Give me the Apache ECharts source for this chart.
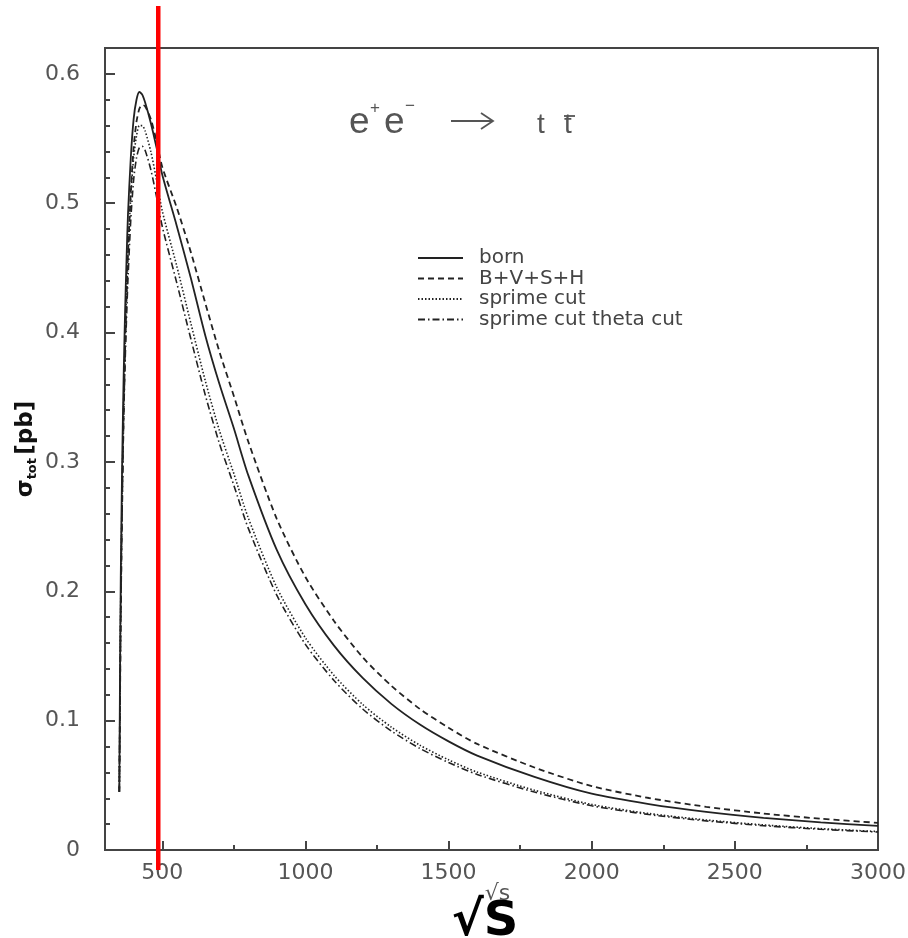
<!DOCTYPE html>
<html>
<head>
<meta charset="utf-8">
<script src="https://cdn.jsdelivr.net/npm/echarts@6/dist/echarts.min.js"></script>
<style>
  html, body { margin: 0; padding: 0; background: #fff; }
  #chart { width: 908px; height: 938px; }
</style>
</head>
<body>
<div id="chart"></div>
<script>
// Centre-of-mass energy sqrt(s) [GeV]
const energies = [350, 352, 355, 360, 365, 370, 375, 380, 390, 400, 410, 420, 430, 440, 460, 480, 500,
  550, 600, 650, 700, 750, 800, 900, 1000, 1100, 1200, 1300, 1400, 1500, 1600, 1800, 2000,
  2200, 2400, 2600, 2800, 3000];

// Total cross sections [pb]
const born = [0.045, 0.12, 0.21, 0.30, 0.365, 0.415, 0.455, 0.49, 0.535, 0.565, 0.580, 0.586, 0.584, 0.578, 0.562, 0.543, 0.522,
  0.483, 0.442, 0.398, 0.360, 0.326, 0.290, 0.232, 0.190, 0.158, 0.133, 0.113, 0.097, 0.084, 0.073, 0.0565, 0.0435,
  0.0355, 0.0295, 0.0249, 0.0214, 0.0186];
const bvsh = [0.045, 0.10, 0.18, 0.27, 0.335, 0.385, 0.425, 0.458, 0.508, 0.543, 0.563, 0.573, 0.576, 0.575, 0.565, 0.548, 0.528,
  0.497, 0.462, 0.423, 0.385, 0.351, 0.316, 0.256, 0.211, 0.177, 0.149, 0.127, 0.109, 0.0945, 0.082, 0.0638, 0.0494,
  0.0402, 0.0334, 0.0282, 0.0242, 0.0210];
const sprimeCut = [0.045, 0.11, 0.195, 0.28, 0.345, 0.39, 0.43, 0.46, 0.505, 0.535, 0.552, 0.560, 0.560, 0.556, 0.540, 0.518, 0.494,
  0.452, 0.407, 0.363, 0.324, 0.291, 0.257, 0.203, 0.164, 0.135, 0.1125, 0.095, 0.081, 0.0697, 0.0602, 0.0462, 0.0352,
  0.0282, 0.0232, 0.0194, 0.0165, 0.0143];
const sprimeThetaCut = [0.045, 0.10, 0.18, 0.265, 0.33, 0.375, 0.41, 0.44, 0.487, 0.518, 0.535, 0.543, 0.544, 0.541, 0.526, 0.505, 0.482,
  0.439, 0.395, 0.352, 0.314, 0.282, 0.249, 0.197, 0.159, 0.131, 0.109, 0.092, 0.0785, 0.0676, 0.0584, 0.0448, 0.0342,
  0.0274, 0.0225, 0.0188, 0.0160, 0.0139];

const seriesNames = ['born', 'B+V+S+H', 'sprime cut', 'sprime cut theta cut'];

// Axis ticks
const xMajorTicks = [500, 1000, 1500, 2000, 2500, 3000];
const xMinorTicks = [750, 1250, 1750, 2250, 2750];
const yMajorTicks = [0, 0.1, 0.2, 0.3, 0.4, 0.5, 0.6];
const yMinorTicks = [0.02, 0.04, 0.06, 0.08, 0.12, 0.14, 0.16, 0.18, 0.22, 0.24, 0.26, 0.28,
  0.32, 0.34, 0.36, 0.38, 0.42, 0.44, 0.46, 0.48, 0.52, 0.54, 0.56, 0.58];

// Highlighted energy
const markerEnergy = 486;

const X_MIN = 300, X_MAX = 3000, Y_MIN = 0, Y_MAX = 0.62;
const AXIS_COLOR = '#444';
const LABEL_COLOR = '#555';
const LABEL_FONT = 'DejaVu Sans';
const LINE_COLOR = '#222';

const pair = (ys) => energies.map((e, i) => [e, ys[i]]);

function curve(name, ys, dash, width) {
  return {
    name: name,
    type: 'line',
    data: pair(ys),
    symbol: 'none',
    smooth: 0.25,
    silent: true,
    itemStyle: { color: LINE_COLOR },
    lineStyle: { color: LINE_COLOR, width: width, type: dash },
    z: 3
  };
}

const chart = echarts.init(document.getElementById('chart'), null, { renderer: 'canvas' });

const baseOption = {
  animation: false,
  backgroundColor: '#fff',
  grid: {
    left: 105, right: 30, top: 48, bottom: 88,
    outerBoundsMode: 'none', containLabel: false,
    show: true, borderColor: AXIS_COLOR, borderWidth: 2, backgroundColor: 'transparent'
  },
  legend: {
    orient: 'vertical',
    left: 417, top: 248,
    padding: 0,
    itemWidth: 45, itemHeight: 14, itemGap: 0.5,
    selectedMode: false,
    itemStyle: { opacity: 0 },
    textStyle: { fontFamily: LABEL_FONT, fontSize: 20, color: '#444', lineHeight: 20, padding: [0, 0, 0, 11] },
    data: seriesNames
  },
  xAxis: [{
    type: 'value', min: X_MIN, max: X_MAX,
    axisLine: { show: true, lineStyle: { color: AXIS_COLOR, width: 2 } },
    axisTick: { show: true, inside: true, length: 9, customValues: xMajorTicks, lineStyle: { color: AXIS_COLOR, width: 2 } },
    axisLabel: { customValues: xMajorTicks, formatter: (v) => String(v), color: LABEL_COLOR, fontFamily: LABEL_FONT, fontSize: 22, margin: 12 },
    splitLine: { show: false },
    name: '√s', nameLocation: 'middle', nameGap: 33, nameMoveOverlap: false,
    nameTextStyle: { color: LABEL_COLOR, fontFamily: LABEL_FONT, fontSize: 22, padding: [0, 0, 0, 12] }
  }, {
    type: 'value', min: X_MIN, max: X_MAX, position: 'bottom',
    axisLine: { show: false },
    axisTick: { show: true, inside: true, length: 5, customValues: xMinorTicks, lineStyle: { color: AXIS_COLOR, width: 2 } },
    axisLabel: { show: false },
    splitLine: { show: false }
  }],
  yAxis: [{
    type: 'value', min: Y_MIN, max: Y_MAX,
    axisLine: { show: true, lineStyle: { color: AXIS_COLOR, width: 2 } },
    axisTick: { show: true, inside: true, length: 10, customValues: yMajorTicks, lineStyle: { color: AXIS_COLOR, width: 2 } },
    axisLabel: { customValues: yMajorTicks, formatter: (v) => String(v), color: LABEL_COLOR, fontFamily: LABEL_FONT, fontSize: 22, margin: 25 },
    splitLine: { show: false },
    name: '{g|σ}{t|tot} {g|[pb]}',
    nameLocation: 'middle', nameGap: 64, nameRotate: 90, nameMoveOverlap: false,
    nameTextStyle: {
      rich: {
        g: { fontFamily: LABEL_FONT, fontSize: 23, fontWeight: 'bold', color: '#111', lineHeight: 30, verticalAlign: 'middle' },
        t: { fontFamily: LABEL_FONT, fontSize: 13, fontWeight: 'bold', color: '#111', lineHeight: 30, verticalAlign: 'bottom', padding: [0, 0, 2, 0] }
      }
    }
  }, {
    type: 'value', min: Y_MIN, max: Y_MAX, position: 'left',
    axisLine: { show: false },
    axisTick: { show: true, inside: true, length: 5, customValues: yMinorTicks, lineStyle: { color: AXIS_COLOR, width: 2 } },
    axisLabel: { show: false },
    splitLine: { show: false }
  }],
  series: [
    curve(seriesNames[0], born, 'solid', 1.8),
    curve(seriesNames[1], bvsh, [6, 4], 1.8),
    curve(seriesNames[2], sprimeCut, [1.5, 2], 1.6),
    curve(seriesNames[3], sprimeThetaCut, [7, 3, 1.5, 3], 1.6)
  ],
  graphic: [
    // process label: e+ e-  ->  t tbar
    { type: 'text', id: 'eplus', style: { x: 349, y: 123, text: 'e', font: '37px Liberation Sans', fill: LABEL_COLOR, verticalAlign: 'middle' } },
    { type: 'text', id: 'plus', style: { x: 370, y: 108, text: '+', font: '17px Liberation Sans', fill: LABEL_COLOR, verticalAlign: 'middle' } },
    { type: 'text', id: 'eminus', style: { x: 384, y: 123, text: 'e', font: '37px Liberation Sans', fill: LABEL_COLOR, verticalAlign: 'middle' } },
    { type: 'text', id: 'minus', style: { x: 405, y: 106, text: '−', font: '17px Liberation Sans', fill: LABEL_COLOR, verticalAlign: 'middle' } },
    { type: 'line', id: 'arrowShaft', shape: { x1: 451, y1: 121, x2: 493, y2: 121 }, style: { stroke: LABEL_COLOR, lineWidth: 1.8 } },
    { type: 'polyline', id: 'arrowHead', shape: { points: [[481, 113], [493, 121], [481, 129]] }, style: { stroke: LABEL_COLOR, lineWidth: 1.8, fill: null } },
    { type: 'text', id: 'top', style: { x: 537, y: 125, text: 't', font: '28px Liberation Sans', fill: LABEL_COLOR, verticalAlign: 'middle' } },
    { type: 'text', id: 'antitop', style: { x: 564, y: 125, text: 't', font: '28px Liberation Sans', fill: LABEL_COLOR, verticalAlign: 'middle' } },
    { type: 'line', id: 'antitopBar', shape: { x1: 564, y1: 116, x2: 575, y2: 116 }, style: { stroke: LABEL_COLOR, lineWidth: 1.8 } },
    // large axis caption
    { type: 'text', id: 'sqrtS', style: { x: 485, y: 923, text: '√S', font: 'bold 48px DejaVu Sans', fill: '#000', align: 'center', verticalAlign: 'middle' }, z: 10 }
  ]
};

chart.setOption(baseOption);

// vertical red marker through the plot at the chosen energy
const mx = chart.convertToPixel({ xAxisIndex: 0 }, markerEnergy);
chart.setOption({
  graphic: [{
    type: 'line', id: 'marker', z: 20,
    shape: { x1: mx, y1: 6, x2: mx, y2: 870 },
    style: { stroke: '#ff0000', lineWidth: 4.5 }
  }]
});
</script>
</body>
</html>
